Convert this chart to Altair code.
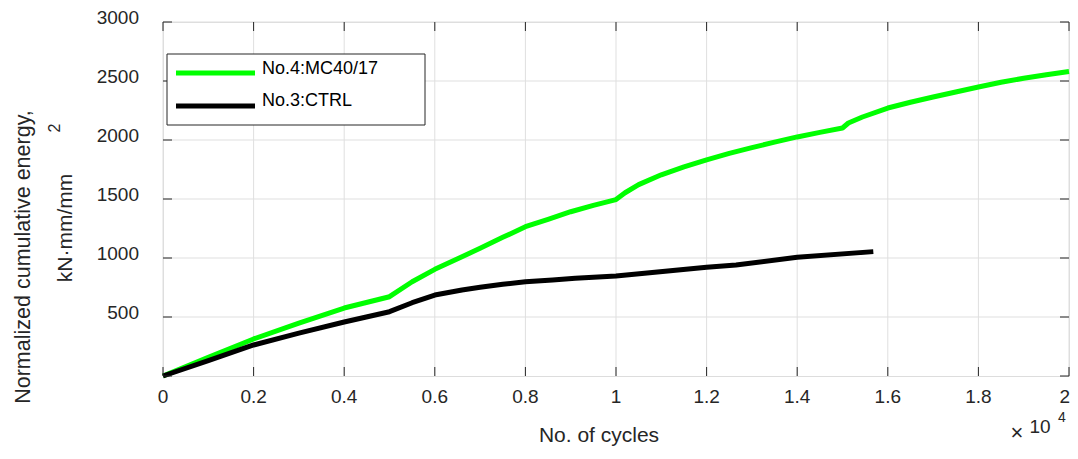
import altair as alt
import pandas as pd

# ---- data ----
green_x = [0, 1000, 2000, 3000, 4000, 5000, 5500, 6000, 6600, 7000, 7500, 8000,
           8500, 9000, 9500, 10000, 10200, 10500, 11000, 11500, 12000, 12500,
           13000, 13500, 14000, 14500, 15000, 15130, 15440, 16000, 16500, 17000,
           17500, 18000, 18500, 19000, 19500, 20000]
green_y = [0, 158, 314, 449, 576, 672, 799, 904, 1011, 1082, 1175, 1265,
           1328, 1392, 1446, 1495, 1553, 1622, 1705, 1772, 1832, 1886,
           1935, 1982, 2026, 2065, 2102, 2144, 2195, 2271, 2320, 2364,
           2407, 2449, 2489, 2523, 2553, 2580]
black_x = [0, 1000, 2000, 3000, 4000, 5000, 5500, 6000, 6600, 7000, 7500, 8000,
           8600, 9100, 10000, 12000, 12650, 14000, 15680]
black_y = [0, 130, 263, 364, 458, 545, 621, 686, 729, 752, 777, 799,
           814, 828, 848, 921, 941, 1006, 1054]
series_names = ["No.4:MC40/17", "No.3:CTRL"]
series_colors = ["#00ff00", "#000000"]
x_ticks = [0, 2000, 4000, 6000, 8000, 10000, 12000, 14000, 16000, 18000, 20000]
x_labels = ["0", "0.2", "0.4", "0.6", "0.8", "1", "1.2", "1.4", "1.6", "1.8", "2"]
y_ticks = [500, 1000, 1500, 2000, 2500, 3000]
y_labels = ["500", "1000", "1500", "2000", "2500", "3000"]
y_tick_marks = [0, 500, 1000, 1500, 2000, 2500, 3000]

W, H = 906, 354
FONT = "Liberation Sans"
AX = "#262626"
GRID = "#dfdfdf"

df = pd.concat([
    pd.DataFrame({"cycles": green_x, "energy": green_y, "series": series_names[0], "order": 0}),
    pd.DataFrame({"cycles": black_x, "energy": black_y, "series": series_names[1], "order": 1}),
])

xs = alt.Scale(domain=[0, 20000], nice=False, zero=False)
ys = alt.Scale(domain=[0, 3000], nice=False, zero=False)

xt = pd.DataFrame({"t": x_ticks, "lab": x_labels})
yt = pd.DataFrame({"t": y_ticks, "lab": y_labels})
ytm = pd.DataFrame({"t": y_tick_marks})

# grid
x_grid = alt.Chart(xt).mark_rule(color=GRID, strokeWidth=1).encode(
    x=alt.X("t:Q", scale=xs, axis=None), y=alt.value(0), y2=alt.value(H))
y_grid = alt.Chart(yt).mark_rule(color=GRID, strokeWidth=1).encode(
    y=alt.Y("t:Q", scale=ys, axis=None), x=alt.value(0), x2=alt.value(W))

lines = alt.Chart(df).mark_line(strokeWidth=5, strokeJoin="round").encode(
    x=alt.X("cycles:Q", scale=xs, axis=None),
    y=alt.Y("energy:Q", scale=ys, axis=None),
    color=alt.Color("series:N", scale=alt.Scale(domain=series_names, range=series_colors),
                    legend=None),
    order="order:Q",
)

tick_style = dict(color=AX, strokeWidth=1)
bottom_ticks = alt.Chart(xt).mark_rule(**tick_style).encode(
    x=alt.X("t:Q", scale=xs, axis=None), y=alt.value(H), y2=alt.value(H - 9))
top_ticks = alt.Chart(xt).mark_rule(**tick_style).encode(
    x=alt.X("t:Q", scale=xs, axis=None), y=alt.value(0), y2=alt.value(9))
left_ticks = alt.Chart(ytm).mark_rule(**tick_style).encode(
    y=alt.Y("t:Q", scale=ys, axis=None), x=alt.value(0), x2=alt.value(9))
right_ticks = alt.Chart(ytm).mark_rule(**tick_style).encode(
    y=alt.Y("t:Q", scale=ys, axis=None), x=alt.value(W), x2=alt.value(W - 9))

# tick labels
x_lab = alt.Chart(xt.iloc[:-1]).mark_text(font=FONT, fontSize=19, color=AX, align="center",
                                          baseline="middle").encode(
    x=alt.X("t:Q", scale=xs, axis=None), y=alt.value(H + 21), text="lab:N")
x_lab_last = alt.Chart(xt.iloc[-1:]).mark_text(font=FONT, fontSize=19, color=AX, align="right",
                                               baseline="middle", dx=1).encode(
    x=alt.X("t:Q", scale=xs, axis=None), y=alt.value(H + 21), text="lab:N")
y_lab = alt.Chart(yt).mark_text(font=FONT, fontSize=19, color=AX, align="right",
                                baseline="middle", dy=-4).encode(
    y=alt.Y("t:Q", scale=ys, axis=None), x=alt.value(-24), text="lab:N")

one = pd.DataFrame({"a": [0]})

# ---- legend box ----
leg_box = alt.Chart(one).mark_rect(fill="white", stroke=AX, strokeWidth=1).encode(
    x=alt.value(4), x2=alt.value(262), y=alt.value(32), y2=alt.value(103))
leg_layers = []
for name, col, ly, ty in zip(series_names, series_colors, [51, 84], [47, 79]):
    leg_layers.append(alt.Chart(one).mark_rule(strokeWidth=5, color=col).encode(
        x=alt.value(13), x2=alt.value(92), y=alt.value(ly)))
    leg_layers.append(alt.Chart(pd.DataFrame({"t": [name]})).mark_text(
        align="left", baseline="middle", font=FONT, fontSize=18, color="black").encode(
        x=alt.value(99), y=alt.value(ty), text="t:N"))

# ---- titles / annotations ----
def label(txt, x, y, size, angle=0, align="center", color=AX):
    return alt.Chart(pd.DataFrame({"t": [txt]})).mark_text(
        font=FONT, fontSize=size, angle=angle, align=align, baseline="middle",
        color=color).encode(x=alt.value(x), y=alt.value(y), text="t:N")

ytitle1 = label("Normalized cumulative energy,", -139, 235, 21.5, angle=270)
ytitle2 = label("kN·mm/mm", -97, 206, 21, angle=270)
ytitle3 = label("2", -108, 106, 16, angle=270)
xtitle = label("No. of cycles", 436, 414, 21)
mult = label("×", 854, 411, 22)
ten = label("10", 877, 405, 19)
four = label("4", 899, 396, 14)

chart = alt.layer(
    x_grid, y_grid, lines, bottom_ticks, top_ticks, left_ticks, right_ticks,
    x_lab, x_lab_last, y_lab, leg_box, *leg_layers,
    ytitle1, ytitle2, ytitle3, xtitle, mult, ten, four,
).properties(
    width=W, height=H,
    autosize=alt.AutoSizeParams(type="none"),
    padding={"left": 155, "top": 14, "right": 1, "bottom": 70},
).configure_view(stroke=AX, strokeWidth=1).configure(background="white")

chart.save("out.html", embed_options={"renderer": "svg", "actions": False})
